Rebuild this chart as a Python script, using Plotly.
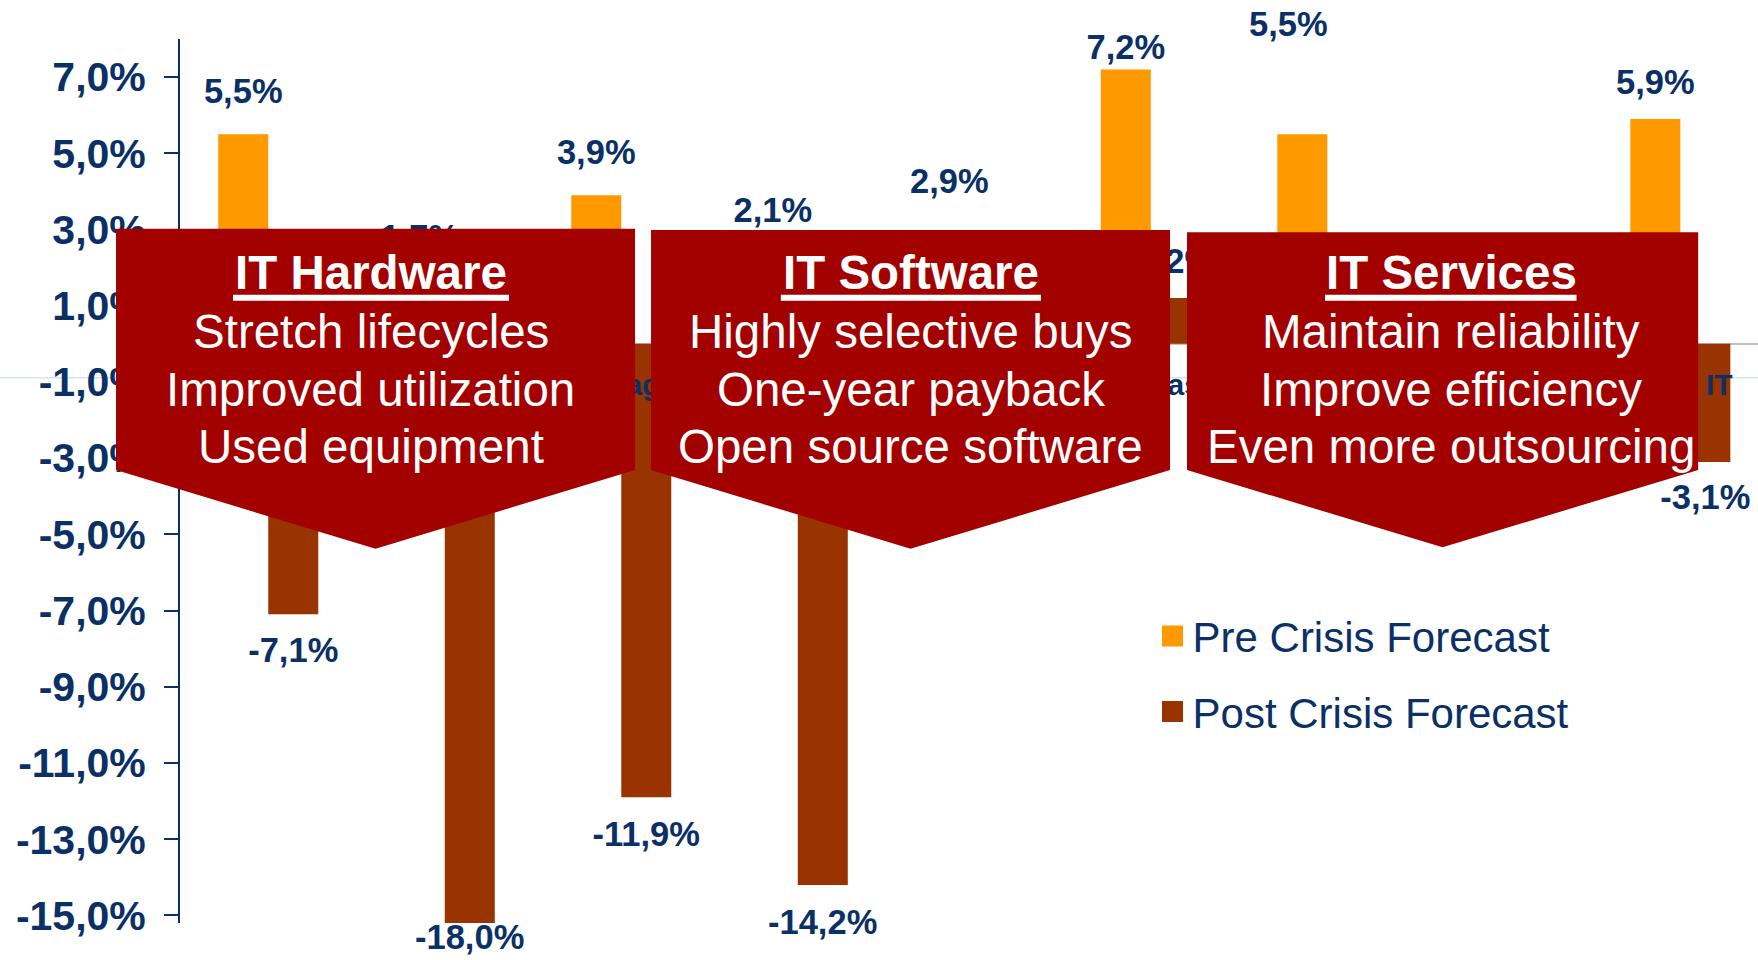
import plotly.graph_objects as go

# ---------------- data ----------------
categories = ["Servers", "PCs", "Storage", "Applications", "Middleware",
              "Database", "Consulting", "Outsourcing", "Total IT"]
pre_crisis = [5.5, 1.7, 3.9, 2.1, 2.9, 7.2, 5.5, 1.3, 5.9]
post_crisis = [-7.1, -18.0, -11.9, -14.2, -2.4, 1.2, -2.0, -1.9, -3.1]
series_names = ["Pre Crisis Forecast", "Post Crisis Forecast"]

y_tick_values = [7, 5, 3, 1, -1, -3, -5, -7, -9, -11, -13, -15]
y_tick_labels = ["7,0%", "5,0%", "3,0%", "1,0%", "-1,0%", "-3,0%", "-5,0%",
                 "-7,0%", "-9,0%", "-11,0%", "-13,0%", "-15,0%"]

group_titles = ["IT Hardware", "IT Software", "IT Services"]
group_lines = [
    ["Stretch lifecycles", "Improved utilization", "Used equipment"],
    ["Highly selective buys", "One-year payback", "Open source software"],
    ["Maintain reliability", "Improve efficiency", "Even more outsourcing"],
]

# ---------------- styles / placement ----------------
ORANGE = "#FF9900"
BROWN = "#993300"
BOXRED = "#A30000"
NAVY = "#0B3066"
FONT = "Liberation Sans, Arial, sans-serif"

X_RANGE = [-0.5, 8.44]
Y_RANGE = [-15.2, 8]
BARGAP = 0.4334
bar_w = (1 - BARGAP) / 2

# data-label offsets (in axis units) relative to each bar end
pre_label_offset = [1.14, 1.10, 1.14, 1.42, 1.38, 0.60, 2.90, 1.10, 0.98]
pre_label_dx = [0, 0, 0, 0, 0, 0, -0.08, 0, 0]
post_label_offset = [-0.93, 2.436, -0.96, -0.98, -0.97, 0.98, -0.97, -0.97, -0.92]
TEXT_NUDGE = -0.09          # text traces render slightly high
cat_label_y = -1.08
LABEL_SIZE = 34.5

# callout boxes (axis units)
box_x = [(-0.8626, 2.078), (2.1686, 5.109), (5.205, 8.101)]
box_top = [3.02, 2.99, 2.93]
box_side = -3.31
box_tip = [-5.38, -5.38, -5.34]
text_cx = [0.5793, 3.639, 6.701]
title_y = 1.864
line_y = [0.323, -1.194, -2.690]
underline = [(-0.1997, 1.364), (2.904, 4.378), (5.987, 7.412)]
underline_y = 1.207


def fmt(v):
    return f"{v:.1f}".replace(".", ",") + "%"


def xpaper(xd):
    return (xd - X_RANGE[0]) / (X_RANGE[1] - X_RANGE[0])


def ypaper(yd):
    return (yd - Y_RANGE[0]) / (Y_RANGE[1] - Y_RANGE[0])


xs = list(range(len(categories)))

fig = go.Figure()
fig.add_trace(go.Bar(x=xs, y=pre_crisis, name=series_names[0], marker_color=ORANGE,
                     marker_line_width=0, showlegend=False, hoverinfo="skip"))
fig.add_trace(go.Bar(x=xs, y=post_crisis, name=series_names[1], marker_color=BROWN,
                     marker_line_width=0, showlegend=False, hoverinfo="skip"))

# category labels (drawn under the callout boxes)
fig.add_trace(go.Scatter(x=xs, y=[cat_label_y + TEXT_NUDGE * 0.6] * len(xs), mode="text",
                         text=categories, textposition="middle center",
                         textfont=dict(family=FONT, size=30, color=NAVY, weight="bold"),
                         showlegend=False, hoverinfo="skip", cliponaxis=False))

# value labels: inside the axis range as text traces (under the boxes),
# outside the range as annotations
annotations = []
label_font = dict(family=FONT, size=LABEL_SIZE, color=NAVY, weight="bold")
for vals, offs, sign, dxs in [(pre_crisis, pre_label_offset, -1, pre_label_dx),
                              (post_crisis, post_label_offset, 1, [0] * len(xs))]:
    lx, ly, lt = [], [], []
    for i, v, o, d in zip(xs, vals, offs, dxs):
        x = i + sign * bar_w / 2 + d
        y = v + o
        if Y_RANGE[0] <= y + TEXT_NUDGE <= Y_RANGE[1]:
            lx.append(x); ly.append(y + TEXT_NUDGE); lt.append(fmt(v))
        else:
            annotations.append(dict(x=x, y=ypaper(y), xref="x", yref="paper", text=fmt(v),
                                    showarrow=False, font=label_font,
                                    xanchor="center", yanchor="middle"))
    fig.add_trace(go.Scatter(x=lx, y=ly, mode="text", text=lt, textposition="middle center",
                             textfont=label_font, showlegend=False, hoverinfo="skip",
                             cliponaxis=False))

# legend entries
for name, col in zip(series_names, [ORANGE, BROWN]):
    fig.add_trace(go.Scatter(x=[None], y=[None], mode="markers", name=name, legendgroup=name,
                             marker=dict(symbol="square", size=16, color=col,
                                         line=dict(color=col, width=5))))

shapes = []
# light separator line
shapes.append(dict(type="line", xref="paper", yref="paper", x0=-180 / 1578, x1=1,
                   y0=ypaper(-0.89), y1=ypaper(-0.89),
                   line=dict(color="#CFE2F8", width=1.5), layer="below"))
# callout boxes
for (x0, x1), top, tip in zip(box_x, box_top, box_tip):
    cx = (x0 + x1) / 2
    p0, p1, pc = xpaper(x0), xpaper(x1), xpaper(cx)
    path = (f"M {p0},{ypaper(top)} L {p1},{ypaper(top)} L {p1},{ypaper(box_side)} "
            f"L {pc},{ypaper(tip)} L {p0},{ypaper(box_side)} Z")
    shapes.append(dict(type="path", xref="paper", yref="paper", path=path,
                       fillcolor=BOXRED, line=dict(width=0), layer="above"))
for (u0, u1) in underline:
    shapes.append(dict(type="line", xref="paper", yref="paper", x0=xpaper(u0), x1=xpaper(u1),
                       y0=ypaper(underline_y), y1=ypaper(underline_y),
                       line=dict(color="white", width=6), layer="above"))

for cx, title, lines in zip(text_cx, group_titles, group_lines):
    annotations.append(dict(x=cx, y=title_y, xref="x", yref="y", text=title, showarrow=False,
                            font=dict(family=FONT, size=47.5, color="white", weight="bold"),
                            xanchor="center", yanchor="middle"))
    for ly, t in zip(line_y, lines):
        annotations.append(dict(x=cx, y=ly, xref="x", yref="y", text=t, showarrow=False,
                                font=dict(family=FONT, size=47.5, color="white"),
                                xanchor="center", yanchor="middle"))

fig.update_layout(
    width=1758, height=960,
    margin=dict(l=180, r=0, t=39, b=37),
    paper_bgcolor="white", plot_bgcolor="white",
    barmode="group", bargap=BARGAP, bargroupgap=0,
    font=dict(family=FONT, color=NAVY),
    xaxis=dict(type="linear", range=X_RANGE, showgrid=False, zeroline=False,
               showline=False, showticklabels=False, ticks=""),
    yaxis=dict(range=Y_RANGE, tickvals=y_tick_values, ticktext=y_tick_labels,
               showgrid=False, zeroline=True, zerolinecolor="#BFBFBF", zerolinewidth=2,
               showline=True, linecolor=NAVY, linewidth=2,
               ticks="outside", ticklen=14, tickwidth=2, tickcolor=NAVY,
               ticklabelstandoff=10,
               tickfont=dict(family=FONT, size=41, color=NAVY, weight="bold")),
    showlegend=True,
    legend=dict(x=0.6163, y=0.363, xanchor="left", yanchor="top",
                font=dict(family=FONT, size=42, color=NAVY),
                bgcolor="rgba(0,0,0,0)", tracegroupgap=18, traceorder="grouped",
                itemsizing="trace"),
    shapes=shapes, annotations=annotations,
)

fig.write_html("out.html", config={"displayModeBar": False},
               post_script="document.body.style.margin='0px';")
